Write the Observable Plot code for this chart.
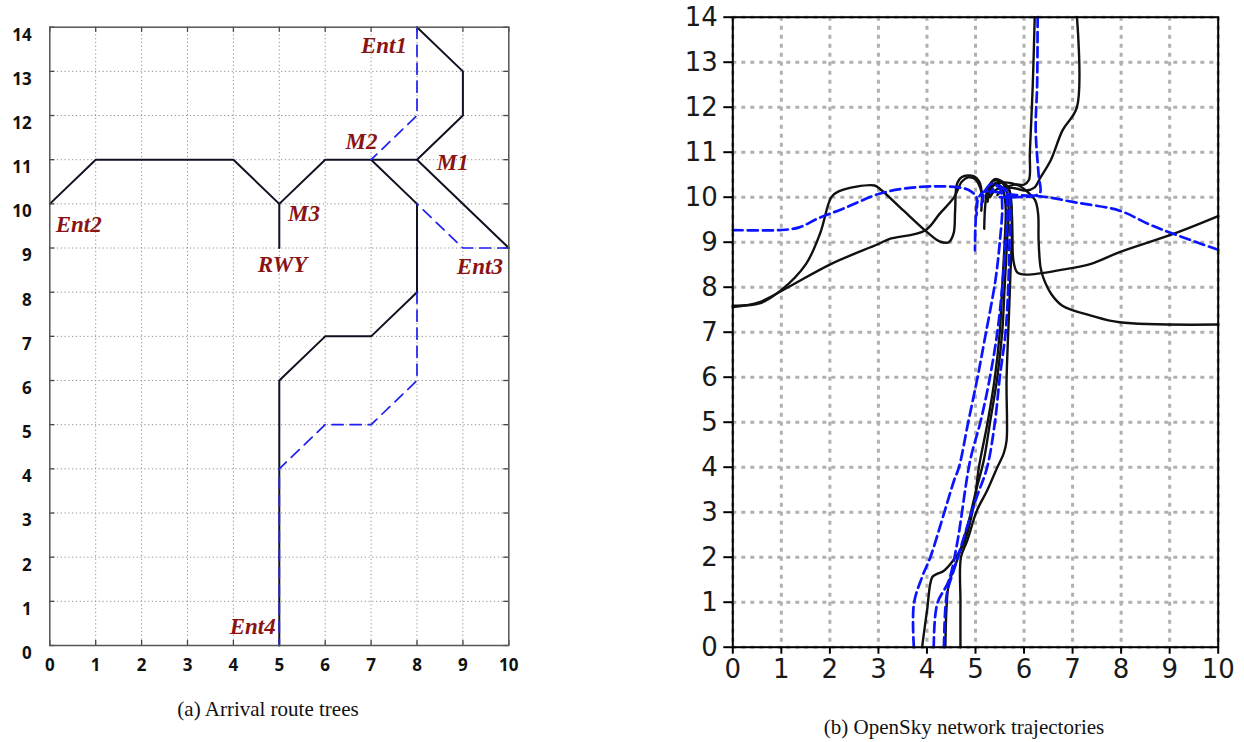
<!DOCTYPE html>
<html><head><meta charset="utf-8">
<script src="https://cdn.jsdelivr.net/npm/d3@7"></script>
<script src="https://cdn.jsdelivr.net/npm/@observablehq/plot@0.6"></script>
<style>
body{margin:0;background:#fff;}
#wrap{position:relative;width:1244px;height:742px;overflow:hidden;background:#fff}
#pa{position:absolute;left:0;top:0}
#pb{position:absolute;left:680px;top:0}
.cap{position:absolute;font-family:"Liberation Serif","Times New Roman",serif;font-size:21px;color:#111;white-space:nowrap;transform:translate(-50%,-50%)}
</style></head><body>
<div id="wrap"><div id="pa"></div><div id="pb"></div>
<div class="cap" style="left:268px;top:709px">(a) Arrival route trees</div>
<div class="cap" style="left:964px;top:727px">(b) OpenSky network trajectories</div>
</div>
<script>
// ---------- Panel (a) data: arrival route trees ----------
const xTicks = [0,1,2,3,4,5,6,7,8,9,10];
const yTicks = [0,1,2,3,4,5,6,7,8,9,10,11,12,13,14];

const routeEnt2 = [[0,10],[1,11],[4,11],[5,10],[5,9]];
const routeM3M1 = [[5,10],[6,11],[8,11]];
const routeEnt1 = [[8,14],[9,13],[9,12],[8,11],[10,9]];
const routeEnt4 = [[7,11],[8,10],[8,8],[7,7],[6,7],[5,6],[5,0]];
const altNorth = [[8,14],[8,12],[7,11]];
const altEast = [[10,9],[9,9],[8,10]];
const altSouth = [[8,8],[8,6],[7,5],[6,5],[5,4],[5,0]];

const nodeLabels = ["Ent1","M2","M1","M3","Ent2","RWY","Ent3","Ent4"];
const nodeLabelX = [7.28,6.79,8.78,5.54,0.63,5.07,9.37,4.42];
const nodeLabelY = [13.58,11.41,10.93,9.78,9.52,8.62,8.57,0.42];

// ---------- Panel (b) data: OpenSky trajectories ----------
const trkWest1 = [[0,7.59],[0.55,7.64],[0.99,7.93],[1.51,8.52],[1.8,9.2],[2.03,10.0],[2.18,10.13],[2.92,10.26],[3.07,10.15],[3.52,9.70],[4.04,9.19],[4.26,9.02],[4.45,9.0],[4.55,9.2],[4.58,9.7],[4.62,10.3],[4.72,10.45],[4.96,10.47],[5.08,10.34],[5.13,10.08],[5.12,9.7]];
const trkWest2 = [[0,7.56],[0.55,7.67],[1.14,8.0],[2.03,8.52],[3.0,8.96],[3.22,9.07],[3.96,9.26],[4.26,9.63],[4.56,10.0],[4.72,10.35],[4.85,10.44],[5.0,10.40],[5.1,10.2],[5.15,9.9]];
const trkEast1 = [[10,9.58],[9.09,9.19],[7.97,8.78],[7.38,8.52],[6.79,8.39],[6.04,8.28],[5.86,8.33],[5.78,8.6],[5.76,9.2],[5.74,9.8],[5.7,10.15],[5.58,10.3],[5.42,10.32],[5.3,10.15],[5.25,9.9]];
const trkEast2 = [[10,7.17],[7.97,7.22],[7.38,7.37],[6.79,7.59],[6.56,7.85],[6.40,8.2],[6.34,8.44],[6.30,9.04],[6.29,9.63],[6.23,9.93],[6.08,10.11],[5.89,10.26],[5.6,10.33],[5.37,10.26],[5.28,10.05]];
const trkNorth1 = [[7.09,14],[7.09,12.0],[6.79,11.48],[6.55,10.82],[6.34,10.44],[6.22,10.22],[6.04,10.15],[5.8,10.2],[5.6,10.22],[5.4,10.15],[5.3,10.0]];
const trkNorth2 = [[6.22,14],[6.18,12.5],[6.12,11.0],[6.10,10.38],[6.0,10.28],[5.8,10.28],[5.6,10.2],[5.45,10.05]];
const trkSouth1 = [[3.90,0],[4.0,0.8],[4.11,1.56],[4.21,1.63],[4.35,1.70],[4.59,2.0],[4.76,2.30],[4.97,3.19],[5.07,4.0],[5.25,5.0],[5.4,6.0],[5.5,7.0],[5.55,8.0],[5.6,9.0],[5.62,9.8],[5.55,10.2],[5.4,10.3],[5.25,10.15],[5.2,9.8],[5.18,9.3]];
const trkSouth2 = [[4.38,0],[4.40,0.8],[4.45,1.41],[4.62,1.93],[4.83,2.67],[5.03,3.56],[5.17,4.15],[5.3,5.0],[5.45,6.0],[5.55,7.0],[5.6,8.0],[5.65,9.0],[5.68,9.8],[5.6,10.25],[5.45,10.38],[5.3,10.3],[5.22,10.0]];
const trkSouth3 = [[4.69,0],[4.69,1.0],[4.70,2.0],[4.83,2.37],[5.03,3.04],[5.24,3.48],[5.45,4.0],[5.58,4.3],[5.64,4.59],[5.64,5.93],[5.69,7.41],[5.72,8.3],[5.75,9.2],[5.74,9.8],[5.68,10.2],[5.55,10.35],[5.4,10.4],[5.28,10.25]];

const dshWest = [[0,9.27],[0.99,9.27],[1.37,9.33],[1.74,9.52],[2.26,9.74],[3.0,10.07],[3.52,10.19],[4.11,10.24],[4.63,10.22],[4.86,10.16],[5.0,10.04],[5.03,9.93],[5.02,9.6]];
const dshEast = [[10,8.83],[9.09,9.18],[8.57,9.40],[7.97,9.7],[7.08,9.88],[6.34,10.02],[5.8,10.05],[5.4,10.12],[5.17,10.12],[5.05,9.95],[5.0,9.4],[4.99,8.82]];
const dshNorth = [[6.28,14],[6.27,12.5],[6.24,11.5],[6.3,10.5],[6.33,10.1],[6.2,10.03],[5.8,10.0],[5.5,10.0]];
const dshSouth1 = [[3.73,0],[3.73,0.96],[3.90,1.56],[4.07,2.0],[4.35,2.97],[4.56,3.71],[4.66,4.0],[4.85,5.0],[5.03,5.93],[5.2,6.9],[5.41,8.15],[5.5,9.0],[5.55,9.8],[5.5,10.2],[5.35,10.3],[5.2,10.15],[5.12,9.8]];
const dshSouth2 = [[4.14,0],[4.21,0.96],[4.45,1.48],[4.62,2.30],[4.89,4.15],[5.1,5.0],[5.28,5.9],[5.45,7.0],[5.55,8.0],[5.62,9.0],[5.66,9.8],[5.6,10.15],[5.45,10.25],[5.3,10.1]];
const dshSouth3 = [[4.35,0],[4.41,1.19],[4.55,1.70],[4.72,2.30],[5.0,3.26],[5.24,4.0],[5.4,5.0],[5.5,6.0],[5.62,7.0],[5.68,8.15],[5.7,9.0],[5.72,9.8],[5.65,10.15],[5.5,10.2]];

// ---------- build tables ----------
const rows = (list) => list.flatMap((pts, i) => pts.map(([x, y]) => ({id: i, x, y})));
const aSolid = rows([routeEnt2, routeM3M1, routeEnt1, routeEnt4]);
const aDash = rows([altNorth, altEast, altSouth]);
const labelRows = nodeLabels.map((t, i) => ({t, x: nodeLabelX[i], y: nodeLabelY[i]}));
const bSolid = rows([trkWest1, trkWest2, trkEast1, trkEast2, trkNorth1, trkNorth2, trkSouth1, trkSouth2, trkSouth3]);
const bDash = rows([dshWest, dshEast, dshNorth, dshSouth1, dshSouth2, dshSouth3]);

// ---------- Panel (a) ----------
const tickLenX = 0.11, tickLenY = 0.115;
const pa = Plot.plot({
  width: 530, height: 690,
  marginLeft: 49.3, marginRight: 21.7, marginTop: 26.7, marginBottom: 45,
  x: {domain: [0, 10], label: null}, y: {domain: [0, 14], label: null},
  style: {background: "transparent", overflow: "visible", fontFamily: "'Noto Sans', sans-serif"},
  marks: [
    Plot.ruleX(xTicks.slice(1, -1), {stroke: "#8f8f8f", strokeWidth: 1, strokeDasharray: "1.2,2.6"}),
    Plot.ruleY(yTicks.slice(1, -1), {stroke: "#8f8f8f", strokeWidth: 1, strokeDasharray: "1.2,2.6"}),
    // inward ticks on all four sides
    Plot.ruleX(xTicks, {y1: 0, y2: tickLenY, stroke: "#444", strokeWidth: 1.3}),
    Plot.ruleX(xTicks, {y1: 14, y2: 14 - tickLenY, stroke: "#444", strokeWidth: 1.3}),
    Plot.ruleY(yTicks, {x1: 0, x2: tickLenX, stroke: "#444", strokeWidth: 1.3}),
    Plot.ruleY(yTicks, {x1: 10, x2: 10 - tickLenX, stroke: "#444", strokeWidth: 1.3}),
    Plot.line(aSolid, {x: "x", y: "y", z: "id", stroke: "#111122", strokeWidth: 2}),
    Plot.line(aDash, {x: "x", y: "y", z: "id", stroke: "#1f1ff0", strokeWidth: 1.7, strokeDasharray: "11,7"}),
    Plot.frame({stroke: "#555", strokeWidth: 1.5}),
    Plot.text(labelRows, {x: "x", y: "y", text: "t", fill: "#8a1414", fontSize: 23, fontWeight: "bold", fontStyle: "italic", fontFamily: "'Liberation Serif', serif"}),
    Plot.axisX({ticks: xTicks, label: null, tickSize: 0, tickPadding: 13, fontSize: 17, fontWeight: "bold", fill: "#111", tickFormat: d => d}),
    Plot.axisY({ticks: yTicks, label: null, tickSize: 0, tickPadding: 18, dy: 8, fontSize: 17, fontWeight: "bold", fill: "#111", tickFormat: d => d})
  ]
});
document.getElementById("pa").append(pa);

// ---------- Panel (b) ----------
const pb = Plot.plot({
  width: 564, height: 700,
  marginLeft: 52.3, marginRight: 26.3, marginTop: 16.7, marginBottom: 53.3,
  x: {domain: [0, 10], label: null}, y: {domain: [0, 14], label: null},
  style: {background: "transparent", overflow: "visible", fontFamily: "'DejaVu Sans', sans-serif"},
  marks: [
    Plot.ruleX(xTicks, {stroke: "#b0b0b0", strokeWidth: 3, strokeDasharray: "4,5"}),
    Plot.ruleY(yTicks, {stroke: "#b0b0b0", strokeWidth: 3, strokeDasharray: "4,5"}),
    Plot.line(bSolid, {x: "x", y: "y", z: "id", stroke: "#111", strokeWidth: 2.4, curve: "catmull-rom"}),
    Plot.line(bDash, {x: "x", y: "y", z: "id", stroke: "#0a14ff", strokeWidth: 2.7, strokeDasharray: "10,5", curve: "catmull-rom"}),
    Plot.frame({stroke: "#000", strokeWidth: 2}),
    Plot.axisX({ticks: xTicks, label: null, tickSize: 7, tickPadding: 5, fontSize: 26, strokeWidth: 2, fill: "#1a1a1a", tickFormat: d => d}),
    Plot.axisY({ticks: yTicks, label: null, tickSize: 9, tickPadding: 6, fontSize: 26, strokeWidth: 2, fill: "#1a1a1a", tickFormat: d => d})
  ]
});
document.getElementById("pb").append(pb);
</script>
</body></html>
